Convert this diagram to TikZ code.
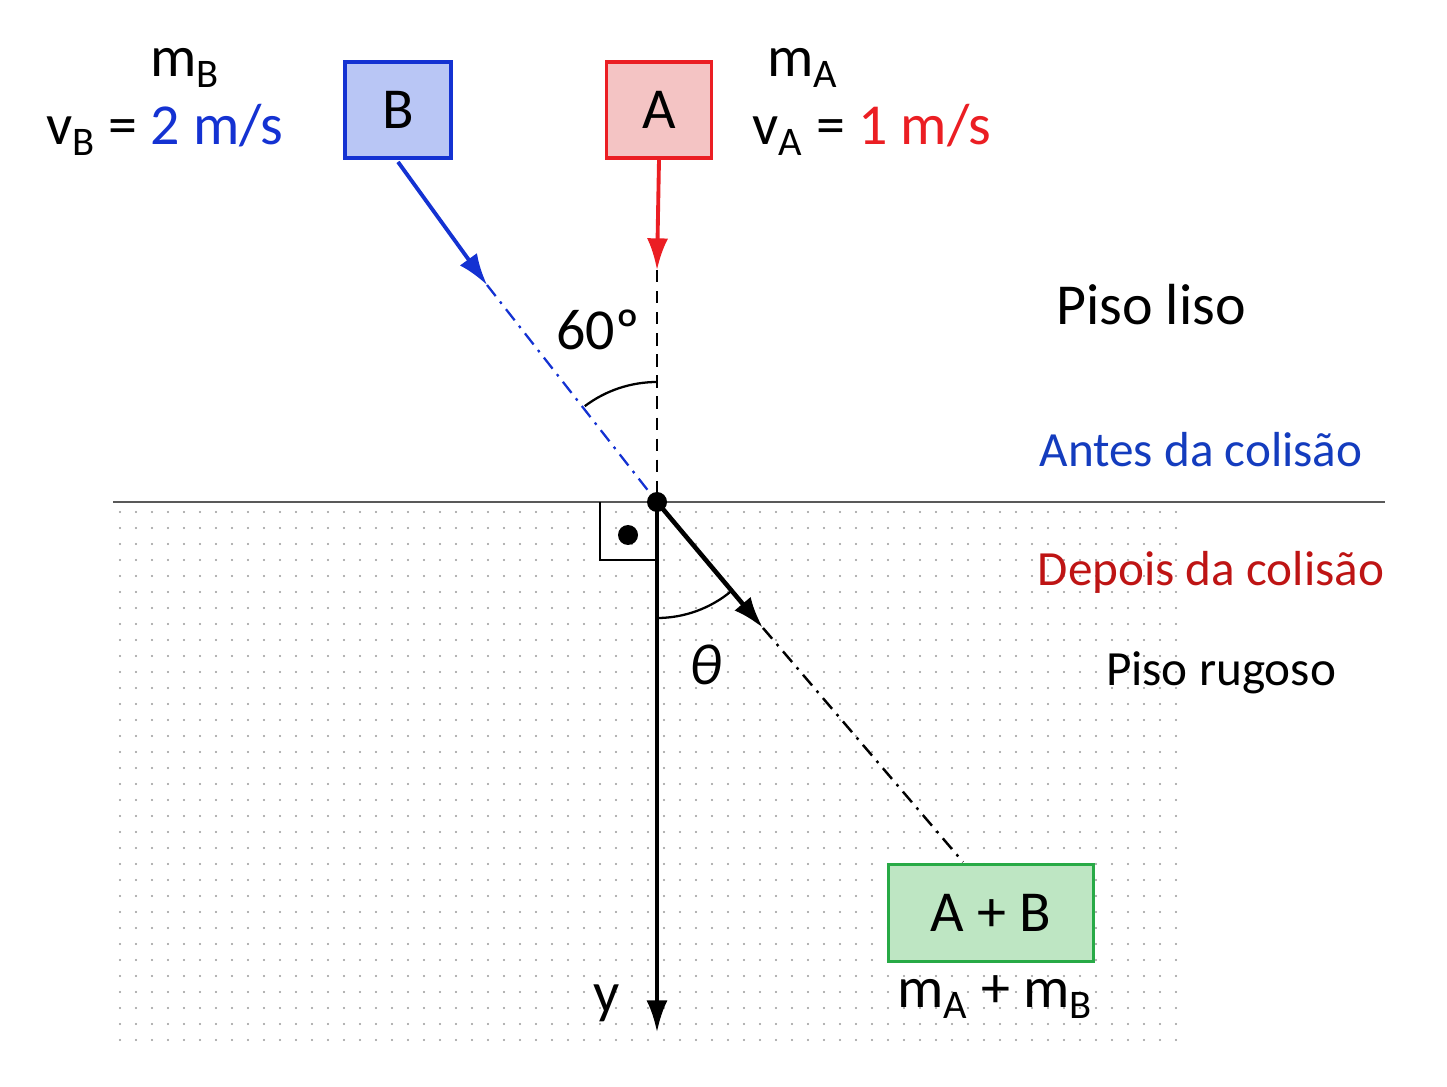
\documentclass[tikz,border=0pt]{standalone}
\usepackage{fontspec}
\setmainfont{Carlito}
\usetikzlibrary{arrows.meta}
\definecolor{bblue}{RGB}{20,50,210}
\definecolor{bfill}{RGB}{185,198,245}
\definecolor{rred}{RGB}{235,30,35}
\definecolor{rfill}{RGB}{244,196,196}
\definecolor{gfill}{RGB}{190,230,195}
\definecolor{ggreen}{RGB}{40,170,70}
\definecolor{dred}{RGB}{190,20,20}
\definecolor{tblue}{RGB}{20,60,190}
\tikzset{
 blk/.style={draw, line width=2.2pt, inner sep=0pt},
 big/.style={font=\fontsize{33}{36}\selectfont},
 mid/.style={font=\fontsize{28}{32}\selectfont},
 tip/.style={-{Latex[length=18pt,width=12pt]}},
}
\begin{document}
\begin{tikzpicture}[x=0.02cm,y=-0.02cm]
\useasboundingbox (0,0) rectangle (1447,1087);
% dotted floor
\foreach \i in {0,...,66}{\foreach \j in {0,...,33}{
 \fill[black!40] (120+\i*16,512+\j*16) circle (1.1);}}
\draw[black!65, line width=1.3pt] (113,502) -- (1385,502);
% blocks
\node[blk, draw=bblue, fill=bfill, minimum width=2.12cm, minimum height=1.92cm, big] (B) at (398,110) {B};
\node[blk, draw=rred, fill=rfill, minimum width=2.1cm, minimum height=1.92cm, big] (A) at (659,110) {A};
\node[blk, draw=ggreen, fill=gfill, minimum width=4.1cm, minimum height=1.94cm, big] (AB) at (991,913) {A + B};
\coordinate (O) at (657,502);
\coordinate (Bt) at (487,285);
\coordinate (At) at (657,270);
\coordinate (Ct) at (763,628);
\coordinate (Ce) at (963,862);
\coordinate (Y) at (657,1032);
% arrows
\draw[bblue, line width=2.2pt, tip] (B.south) ++(0,2) -- (Bt);
\draw[bblue, line width=1.3pt, dash pattern=on 8pt off 4pt on 1.5pt off 4pt] (Bt) -- (O);
\draw[rred, line width=2.2pt, tip] (A.south) -- (At);
\draw[line width=1.4pt, dash pattern=on 7pt off 5pt] (At) -- (O);
\draw[line width=2.2pt, tip] (O) -- (Y);
\draw[line width=2.6pt, tip] (O) -- (Ct);
\draw[line width=1.4pt, dash pattern=on 8pt off 4pt on 1.5pt off 4pt] (Ct) -- (Ce);
% angles
\draw[line width=1.3pt] ([shift={(-127:120)}]O) arc (-127:-90:120);
\draw[line width=1.3pt] ([shift={(50:116)}]O) arc (50:90:116);
\draw[line width=1.3pt] (657,560) -- (600,560) -- (600,502);
\fill (628,535) circle (10);
\fill (O) circle (10);
% labels
\node[big] (mB) at (185,68) {m\textsubscript{B}};
\node[big] (vB) at (165,130) {v\textsubscript{B} = \textcolor{bblue}{2 m/s}};
\node[big] (mA) at (803,68) {m\textsubscript{A}};
\node[big] (vA) at (872,130) {v\textsubscript{A} = \textcolor{rred}{1 m/s}};
\node[big] (a60) at (598,330) {60º};
\node[big] (th) at (706,665) {\textit{θ}};
\node[big] (y) at (607,1003) {y};
\node[big] (mAB) at (995,997) {m\textsubscript{A} + m\textsubscript{B}};
\node[big] (pl) at (1151,305) {Piso liso};
\node[mid, text=tblue] (an) at (1201,450) {Antes da colisão};
\node[mid, text=dred] (dp) at (1211,572) {Depois da colisão};
\node[mid] (pr) at (1221,673) {Piso rugoso};
\end{tikzpicture}
\end{document}
